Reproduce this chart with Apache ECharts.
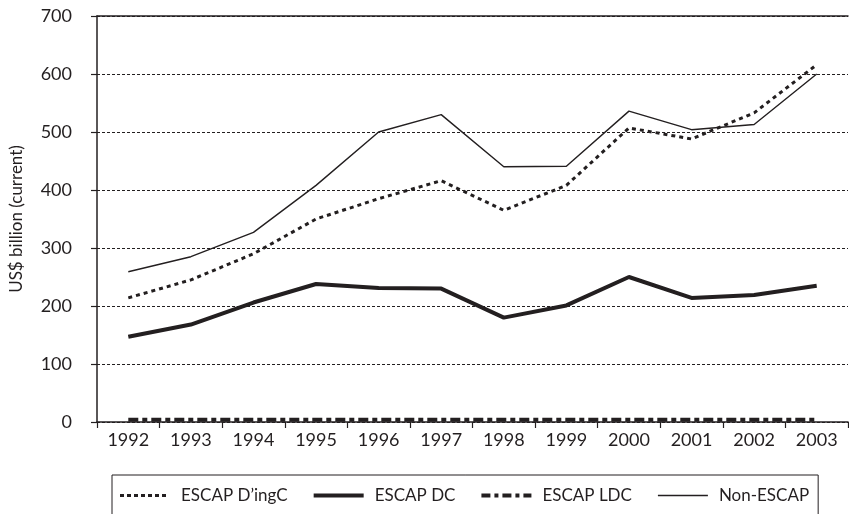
<!DOCTYPE html>
<html>
<head>
<meta charset="utf-8">
<script src="https://cdn.jsdelivr.net/npm/echarts@6/dist/echarts.min.js"></script>
<style>
html,body{margin:0;padding:0;background:#fff;}
#chart{width:849px;height:514px;}
</style>
</head>
<body>
<div id="chart"></div>
<script>
const years = ['1992','1993','1994','1995','1996','1997','1998','1999','2000','2001','2002','2003'];
const escapDingC = [214, 245, 290, 350, 385, 416, 365, 408, 507, 488, 533, 616];
const escapDC = [147, 168, 206, 238, 231, 230, 180, 201, 250, 214, 219, 235];
const escapLDC = [4, 4, 4, 4, 4, 4, 4, 4, 4, 4, 4, 4];
const nonEscap = [259, 285, 327, 408, 500, 530, 440, 441, 536, 504, 513, 600];
const yTicks = [0, 700, 100];
const yName = 'US$ billion (current)';
const seriesNames = ['ESCAP D\u2019ingC', 'ESCAP DC', 'ESCAP LDC', 'Non-ESCAP'];

const FONT = 'Lato, "Noto Sans", sans-serif';
const INK = '#231f20';

// legend icon shapes (50 x 14 box; zero-length subpaths fix the bounds)
const BOUNDS = 'M0,0L0,0ZM50,14L50,14Z';
function rects(list, y0, h) {
  return list.map(([x, w]) => `M${x},${y0}h${w}v${h}h${-w}Z`).join('');
}
const iconDotted = 'path://' + BOUNDS + rects([[0,4],[7,4],[14,4],[21,4],[28,4],[35,4],[42,4]], 5.5, 3);
const iconThick = 'path://' + BOUNDS + rects([[0,50]], 5, 4);
const iconDashDot = 'path://' + BOUNDS + rects([[0,9],[13,4],[21,9],[34,4],[42,8]], 5, 4);
const iconThin = 'path://' + BOUNDS + rects([[0,50]], 6.3, 1.4);
const icons = [iconDotted, iconThick, iconDashDot, iconThin];

const chart = echarts.init(document.getElementById('chart'), null, {renderer: 'canvas'});
chart.setOption({
  animation: false,
  backgroundColor: '#fff',
  grid: {left: 97, right: 1, top: 16, bottom: 92, containLabel: false},
  legend: {
    left: 112, top: 475,
    padding: [12, 9, 12, 8],
    itemGap: 26,
    itemWidth: 50, itemHeight: 14,
    borderColor: INK, borderWidth: 1,
    textStyle: {fontFamily: FONT, fontSize: 17, color: INK, padding: [0, 0, 0, 6]},
    data: seriesNames.map((n, i) => ({name: n, icon: icons[i]}))
  },
  xAxis: [{
    type: 'category',
    data: years,
    boundaryGap: true,
    axisLine: {lineStyle: {color: INK, width: 1.5}},
    axisTick: {show: true, inside: false, length: 6, lineStyle: {color: INK, width: 1.2}},
    axisLabel: {fontFamily: FONT, fontSize: 18, color: INK, margin: 9},
    splitLine: {show: false}
  }, {
    type: 'category',
    data: years,
    position: 'top',
    axisLine: {lineStyle: {color: INK, width: 1.5}},
    axisTick: {show: false},
    axisLabel: {show: false}
  }],
  yAxis: {
    type: 'value',
    min: yTicks[0], max: yTicks[1], interval: yTicks[2],
    name: yName,
    nameLocation: 'middle',
    nameGap: 72,
    nameRotate: 90,
    nameTextStyle: {fontFamily: FONT, fontSize: 17, color: INK},
    axisLine: {show: true, lineStyle: {color: INK, width: 1.5}},
    axisTick: {show: true, inside: false, length: 6, lineStyle: {color: INK, width: 1.2}},
    axisLabel: {fontFamily: FONT, fontSize: 18, color: INK, margin: 25},
    splitLine: {show: true, lineStyle: {color: INK, width: 1, type: [3, 2]}}
  },
  series: [
    {
      name: seriesNames[0], type: 'line', data: escapDingC, symbol: 'none',
      lineStyle: {color: INK, width: 3, type: [4, 4]}, itemStyle: {color: INK}
    },
    {
      name: seriesNames[1], type: 'line', data: escapDC, symbol: 'none',
      lineStyle: {color: INK, width: 4}, itemStyle: {color: INK}
    },
    {
      name: seriesNames[2], type: 'line', data: escapLDC, symbol: 'none',
      lineStyle: {color: INK, width: 4, type: [10, 4, 5, 4]}, itemStyle: {color: INK}
    },
    {
      name: seriesNames[3], type: 'line', data: nonEscap, symbol: 'none',
      lineStyle: {color: INK, width: 1.4}, itemStyle: {color: INK}
    }
  ]
});
</script>
</body>
</html>
